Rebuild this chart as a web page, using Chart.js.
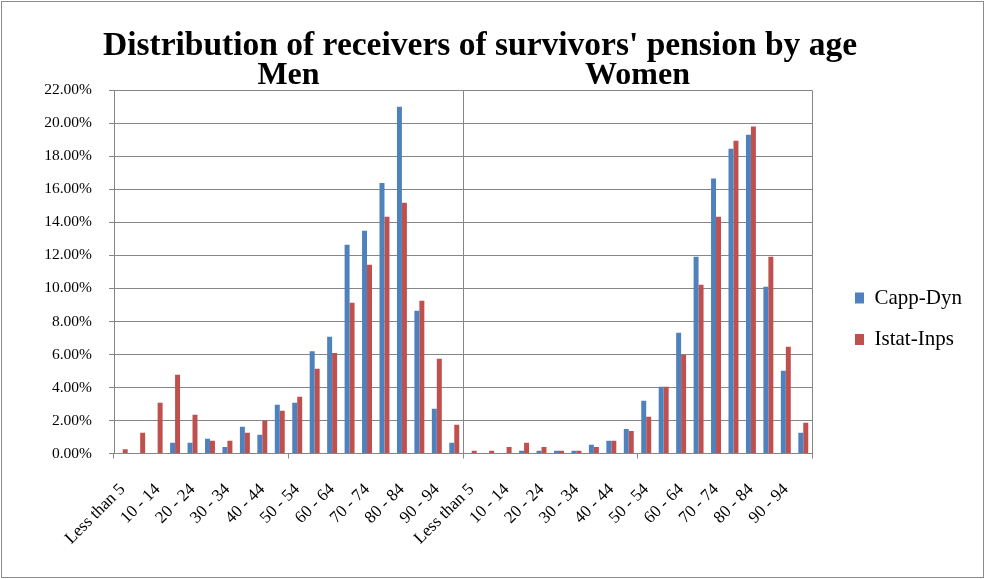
<!DOCTYPE html>
<html>
<head>
<meta charset="utf-8">
<script src="https://cdn.jsdelivr.net/npm/chart.js@4.4.0/dist/chart.umd.min.js"></script>
<style>
  body { margin: 0; background: #fff; }
  #wrap { position: relative; width: 985px; height: 579px; }
  #frame { position: absolute; left: 1px; top: 1px; width: 981px; height: 575px; border: 1.5px solid #8c8c8c; pointer-events: none; }
</style>
</head>
<body>
<div id="wrap">
  <canvas id="pensionChart" width="985" height="579"></canvas>
  <div id="frame"></div>
</div>
<script>
// age groups, repeated for men and women
const ageGroups = ['Less than 5', '5 - 9', '10 - 14', '15 - 19', '20 - 24', '25 - 29', '30 - 34', '35 - 39',
    '40 - 44', '45 - 49', '50 - 54', '55 - 59', '60 - 64', '65 - 69', '70 - 74', '75 - 79',
    '80 - 84', '85 - 89', '90 - 94', '95 +'];
const panels = ['Men', 'Women'];

// shares in %
const menCapp = [0, 0, 0, 0.65, 0.65, 0.89, 0.40, 1.62, 1.13, 2.95, 3.07, 6.20, 7.07, 12.65, 13.49, 16.38, 21.01, 8.65, 2.71, 0.65];
const menIstat = [0.26, 1.25, 3.07, 4.77, 2.34, 0.77, 0.77, 1.25, 1.98, 2.59, 3.43, 5.13, 6.08, 9.13, 11.43, 14.34, 15.19, 9.25, 5.74, 1.74];
const womenCapp = [0, 0, 0, 0.16, 0.16, 0.16, 0.16, 0.53, 0.77, 1.49, 3.19, 4.04, 7.31, 11.92, 16.65, 18.46, 19.31, 10.10, 5.01, 1.25];
const womenIstat = [0.16, 0.16, 0.40, 0.65, 0.40, 0.16, 0.16, 0.40, 0.77, 1.37, 2.22, 4.04, 5.98, 10.22, 14.34, 18.95, 19.80, 11.92, 6.46, 1.86];

const GRID = '#868686';
const SERIF = "'Liberation Serif', 'Times New Roman', serif";

Chart.defaults.font.family = SERIF;
Chart.defaults.color = '#000';

const labels = ageGroups.concat(ageGroups);

// put legend and title where the original has them
const placeBoxes = {
    id: 'placeBoxes',
    afterLayout(chart) {
        const lg = chart.legend;
        const h = lg.height;
        lg.left = 834.5;
        lg.width = 150;
        lg.right = lg.left + 150;
        lg.top = (637.5 - h) / 2;
        lg.bottom = lg.top + h;
        const t = chart.titleBlock;
        t.left = 0;
        t.right = 960;
        t.width = 960;
    }
};

new Chart(document.getElementById('pensionChart'), {
    type: 'bar',
    data: {
        labels: labels,
        datasets: [{
            label: 'Capp-Dyn',
            data: menCapp.concat(womenCapp),
            backgroundColor: '#4F81BD',
            xAxisID: 'x',
            categoryPercentage: 0.57,
            barPercentage: 1
        }, {
            label: 'Istat-Inps',
            data: menIstat.concat(womenIstat),
            backgroundColor: '#C0504D',
            xAxisID: 'x',
            categoryPercentage: 0.57,
            barPercentage: 1
        }]
    },
    options: {
        responsive: false,
        animation: false,
        devicePixelRatio: 1,
        layout: { padding: { left: 0, right: 73, top: 8, bottom: 0 } },
        plugins: {
            title: {
                display: true,
                text: "Distribution of receivers of survivors' pension by age",
                color: '#000',
                font: { family: SERIF, size: 33.5, weight: 'bold', lineHeight: 1 },
                padding: { top: 21.5, bottom: -10 }
            },
            legend: {
                position: 'right',
                maxWidth: 100,
                labels: {
                    boxWidth: 9,
                    boxHeight: 11,
                    padding: 20.5,
                    color: '#000',
                    font: { family: SERIF, size: 21 }
                }
            },
            tooltip: { enabled: false }
        },
        scales: {
            x: {
                position: 'bottom',
                offset: true,
                grid: {
                    offset: true,
                    drawTicks: true,
                    tickLength: 5,
                    color: c => (c.index === 20 || c.index === undefined) ? GRID : 'rgba(0,0,0,0)',
                    tickColor: c => (c.index === undefined || c.index % 10 === 0) ? GRID : 'rgba(0,0,0,0)'
                },
                border: { display: true, color: GRID, width: 1 },
                ticks: {
                    autoSkip: false,
                    minRotation: 45,
                    maxRotation: 45,
                    padding: 21,
                    color: '#000',
                    font: { family: SERIF, size: 17 },
                    callback: (v, i) => i % 2 === 0 ? labels[i] : ''
                },
                afterFit: s => { s.height = 125.5; }
            },
            x2: {
                type: 'category',
                position: 'top',
                labels: panels,
                offset: true,
                grid: { display: false, drawTicks: false },
                border: { display: false },
                ticks: {
                    autoSkip: false,
                    maxRotation: 0,
                    padding: -5,
                    color: '#000',
                    font: { family: SERIF, size: 32, weight: 'bold' }
                },
                afterFit: s => { s.height = 37.3; }
            },
            y: {
                min: 0,
                max: 22,
                grid: { color: GRID, lineWidth: 1, tickLength: 5, tickColor: GRID },
                border: { display: true, color: GRID, width: 1 },
                ticks: {
                    stepSize: 2,
                    padding: 17,
                    color: '#000',
                    font: { family: SERIF, size: 15.5 },
                    callback: v => v.toFixed(2) + '%'
                },
                afterFit: s => { s.width = 114; }
            }
        }
    },
    plugins: [placeBoxes]
});
</script>
</body>
</html>
